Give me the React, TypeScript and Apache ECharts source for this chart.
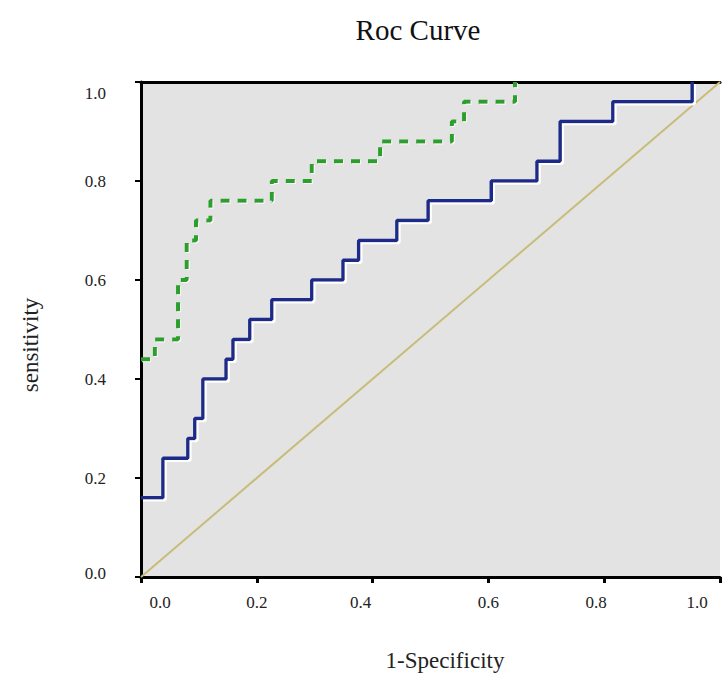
import React, { useEffect, useRef } from "react";
import * as echarts from "echarts";

// ROC points (1-specificity, sensitivity)
const blueFpr = [0, 0.038, 0.081, 0.093, 0.107, 0.147, 0.159, 0.188, 0.226, 0.295, 0.349, 0.376, 0.442, 0.496, 0.605, 0.684, 0.724, 0.815, 0.952];
const blueTpr = [0.16, 0.24, 0.28, 0.32, 0.40, 0.44, 0.48, 0.52, 0.56, 0.60, 0.64, 0.68, 0.72, 0.76, 0.80, 0.84, 0.92, 0.96, 1.0];

const greenFpr = [0, 0.024, 0.064, 0.079, 0.095, 0.12, 0.226, 0.295, 0.413, 0.537, 0.558, 0.646];
const greenTpr = [0.44, 0.48, 0.60, 0.68, 0.72, 0.76, 0.80, 0.84, 0.88, 0.92, 0.96, 1.0];

const refFpr = [0, 1];
const refTpr = [0, 1];

const xTicks = ["0.0", "0.2", "0.4", "0.6", "0.8", "1.0"];
const yTicks = ["0.0", "0.2", "0.4", "0.6", "0.8", "1.0"];

const SERIF = "'Liberation Serif', 'Times New Roman', serif";

function zip(a: number[], b: number[]) {
  return a.map((v, i) => [v, b[i]]);
}

export default function App() {
  const ref = useRef<HTMLDivElement>(null);
  useEffect(() => {
    if (!ref.current) return;
    const chart = echarts.init(ref.current, undefined, { renderer: "svg" });
    const labelBase = { fontFamily: SERIF, fontSize: 17, color: "#222" };
    const xRich: any = {
      s0: { ...labelBase, padding: [0, 0, 0, 38] },
      s1: { ...labelBase },
      s2: { ...labelBase, padding: [0, 24, 0, 0] },
      s3: { ...labelBase },
      s4: { ...labelBase, padding: [0, 16, 0, 0] },
      s5: { ...labelBase, padding: [0, 46, 0, 0] },
    };
    const yRich: any = {
      s0: { ...labelBase, padding: [0, 0, 8, 0] },
      s1: { ...labelBase },
      s2: { ...labelBase },
      s3: { ...labelBase },
      s4: { ...labelBase },
      s5: { ...labelBase, padding: [22, 0, 0, 0] },
    };
    const idx = (v: number) => Math.round(v * 5);
    chart.setOption({
      animation: false,
      backgroundColor: "#ffffff",
      title: {
        text: "Roc Curve",
        left: 413,
        top: 10,
        textAlign: "center",
        textStyle: { fontFamily: SERIF, fontSize: 29, fontWeight: "normal", color: "#111" },
      },
      grid: {
        left: 141,
        right: 5,
        top: 82,
        bottom: 98,
        show: true,
        backgroundColor: "#e3e3e3",
        borderWidth: 0,
      },
      xAxis: [
        {
          type: "value",
          position: "bottom",
          min: 0,
          max: 1,
          interval: 0.2,
          axisLine: { show: true, lineStyle: { color: "#000", width: 3 } },
          axisTick: { show: true, length: 6, lineStyle: { color: "#000", width: 3 } },
          splitLine: { show: false },
          axisLabel: {
            margin: 17,
            fontFamily: SERIF,
            fontSize: 17,
            color: "#222",
            formatter: (v: number) => `{s${idx(v)}|${xTicks[idx(v)]}}`,
            rich: xRich,
          },
        },
        {
          type: "value",
          position: "top",
          min: 0,
          max: 1,
          interval: 0.2,
          axisLine: { show: true, lineStyle: { color: "#000", width: 3 } },
          axisTick: { show: false },
          axisLabel: { show: false },
          splitLine: { show: false },
        },
      ],
      yAxis: {
        type: "value",
        min: 0,
        max: 1,
        interval: 0.2,
        axisLine: { show: true, lineStyle: { color: "#000", width: 3 } },
        axisTick: { show: true, length: 6, lineStyle: { color: "#000", width: 2 } },
        splitLine: { show: false },
        axisLabel: {
          margin: 35,
          fontFamily: SERIF,
          fontSize: 17,
          color: "#222",
          formatter: (v: number) => `{s${idx(v)}|${yTicks[idx(v)]}}`,
          rich: yRich,
        },
      },
      graphic: [
        {
          type: "text",
          x: 30,
          y: 345,
          rotation: Math.PI / 2,
          style: {
            text: "sensitivity",
            fontFamily: SERIF,
            fontSize: 23,
            fill: "#222",
            textAlign: "center",
            textVerticalAlign: "middle",
          },
        },
        {
          type: "text",
          x: 445,
          y: 660,
          style: {
            text: "1-Specificity",
            fontFamily: SERIF,
            fontSize: 23,
            fill: "#222",
            textAlign: "center",
            textVerticalAlign: "middle",
          },
        },
      ],
      series: [
        {
          type: "line",
          name: "reference",
          data: zip(refFpr, refTpr),
          showSymbol: false,
          lineStyle: { color: "#c8bc78", width: 2 },
          z: 2,
        },
        {
          type: "line",
          name: "green",
          step: "end",
          data: zip(greenFpr, greenTpr),
          showSymbol: false,
          lineStyle: {
            color: "#2a9f2a",
            width: 4,
            type: [9, 8],
            shadowColor: "rgba(255,255,255,0.8)",
            shadowBlur: 0,
            shadowOffsetX: 1,
            shadowOffsetY: 1,
          },
          z: 3,
        },
        {
          type: "line",
          name: "blue",
          step: "end",
          data: zip(blueFpr, blueTpr),
          showSymbol: false,
          lineStyle: {
            color: "#1b2a8a",
            width: 3.5,
            shadowColor: "#ffffff",
            shadowBlur: 0,
            shadowOffsetX: 2,
            shadowOffsetY: 2,
          },
          z: 4,
        },
      ],
    });
    return () => chart.dispose();
  }, []);
  return (
    <div
      ref={ref}
      style={{ position: "absolute", left: 0, top: 0, width: 725, height: 675 }}
    />
  );
}
